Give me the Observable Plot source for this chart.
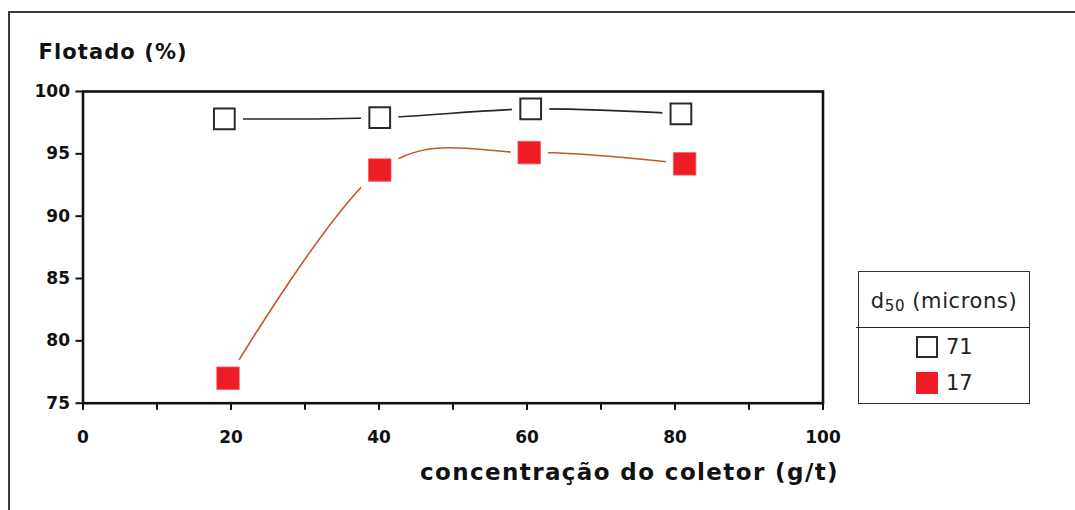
<!DOCTYPE html>
<html>
<head>
<meta charset="utf-8">
<script src="https://cdn.jsdelivr.net/npm/d3@7"></script>
<script src="https://cdn.jsdelivr.net/npm/@observablehq/plot@0.6"></script>
<style>
  html, body { margin: 0; padding: 0; background: #fff; overflow: hidden; }
  #wrap { position: relative; width: 1075px; height: 510px; overflow: hidden; }
  #border { position: absolute; left: 8px; top: 11px; width: 1200px; height: 700px;
            border-left: 2px solid #3a3a3a; border-top: 2px solid #3a3a3a; pointer-events: none; }
  #chart { position: absolute; left: 0; top: 0; }
  #legend { position: absolute; left: 858px; top: 271px; width: 170px; height: 131px;
            border: 1.5px solid #333; font-family: "DejaVu Sans", sans-serif; color: #222; }
  #legend .head { position: absolute; left: 0; top: 0; width: 170px; height: 55px;
            font-size: 21px; letter-spacing: 0.6px; text-align: center; line-height: 58px; }
  #legend .head sub { font-size: 15px; vertical-align: -3px; }
  #legend .sep { position: absolute; left: -3px; top: 55px; width: 174px; border-top: 1.5px solid #222; }
  #legend .item { position: absolute; left: 57px; height: 24px; font-size: 21px; line-height: 24px; }
  #legend .sw { display: inline-block; width: 22px; height: 22px; vertical-align: -4px; margin-right: 8px; box-sizing: border-box; }
  #chart text.big { letter-spacing: 1.4px; }
</style>
</head>
<body>
<div id="wrap">
  <div id="chart"></div>
  <div id="legend"></div>
  <div id="border"></div>
</div>
<script>
// ---- data ----
const yTitle = "Flotado (%)";
const xTitle = "concentração do coletor (g/t)";
const legendTitle = "d50 (microns)";
const seriesNames = ["71", "17"];
const conc71 = [19.1, 40.1, 60.5, 80.8];
const flot71 = [97.8, 97.9, 98.6, 98.2];
const conc17 = [19.6, 40.1, 60.3, 81.3];
const flot17 = [77.0, 93.7, 95.1, 94.2];
const yTicks = [75, 80, 85, 90, 95, 100];
const xTickLabels = [0, 20, 40, 60, 80, 100];
const xMinorTicks = [0, 10, 20, 30, 40, 50, 60, 70, 80, 90, 100];

const s71 = conc71.map((c, i) => ({x: c, y: flot71[i]}));
const s17 = conc17.map((c, i) => ({x: c, y: flot17[i]}));

const sq = 12.7;   // square marker radius (side ≈ 22.5px)
const halo = 21;   // white gap around markers

const chart = Plot.plot({
  width: 1075,
  height: 510,
  marginLeft: 82.5,
  marginRight: 252.5,
  marginTop: 91,
  marginBottom: 107.3,
  style: {fontFamily: "DejaVu Sans, sans-serif", fontSize: "17px", fontWeight: "bold", color: "#111", background: "transparent", overflow: "visible"},
  x: {domain: [0, 100]},
  y: {domain: [75, 100]},
  marks: [
    Plot.line(s71, {x: "x", y: "y", curve: "cardinal", tension: 0, stroke: "#262626", strokeWidth: 1.6}),
    Plot.line(s17, {x: "x", y: "y", curve: "cardinal", tension: 0, stroke: "#c4552e", strokeWidth: 1.6}),
    Plot.dot(s71, {x: "x", y: "y", symbol: "square", r: halo, fill: "white"}),
    Plot.dot(s17, {x: "x", y: "y", symbol: "square", r: halo, fill: "white"}),
    Plot.dot(s71, {x: "x", y: "y", symbol: "square", r: sq - 1, fill: "white", stroke: "#2a2a2a", strokeWidth: 2}),
    Plot.dot(s17, {x: "x", y: "y", symbol: "square", r: sq, fill: "#ee1c25", stroke: "#f25a60", strokeWidth: 0.8}),
    Plot.frame({stroke: "#111", strokeWidth: 2.6}),
    Plot.axisY({ticks: yTicks, tickSize: 7, tickPadding: 6, tickFormat: d => String(d), label: null, stroke: "#111", strokeWidth: 2, fill: "#111"}),
    Plot.axisX({ticks: xMinorTicks, tickSize: 7, tickFormat: () => "", label: null, stroke: "#111", strokeWidth: 2}),
    Plot.axisX({ticks: xTickLabels, tickSize: 7, tickPadding: 21, tickFormat: d => String(d), label: null, stroke: "#111", strokeWidth: 2, fill: "#111"}),
    Plot.text([xTitle], {frameAnchor: "bottom-right", dx: 16, dy: 77, textAnchor: "end", fontSize: 23, fontWeight: "bold", fill: "#111", className: "big"}),
    Plot.text([yTitle], {frameAnchor: "top-left", dx: -44.5, dy: -47, textAnchor: "start", fontSize: 21, fontWeight: "bold", fill: "#111"})
  ]
});
document.getElementById("chart").appendChild(chart);
chart.querySelectorAll("text").forEach(t => {
  if (t.textContent === xTitle) t.setAttribute("letter-spacing", "1.4");
  if (t.textContent === yTitle) t.setAttribute("letter-spacing", "1.1");
});

// ---- legend (HTML) ----
const leg = document.getElementById("legend");
const head = document.createElement("div");
head.className = "head";
head.innerHTML = "d<sub>" + legendTitle.slice(1, 3) + "</sub>" + legendTitle.slice(3);
leg.appendChild(head);
const sep = document.createElement("div");
sep.className = "sep";
leg.appendChild(sep);
const swatchStyles = ["background:#fff;border:2px solid #2a2a2a;", "background:#ee1c25;"];
seriesNames.forEach((name, i) => {
  const it = document.createElement("div");
  it.className = "item";
  it.style.top = (63 + i * 36) + "px";
  it.innerHTML = `<span class="sw" style="${swatchStyles[i]}"></span>${name}`;
  leg.appendChild(it);
});
</script>
</body>
</html>
